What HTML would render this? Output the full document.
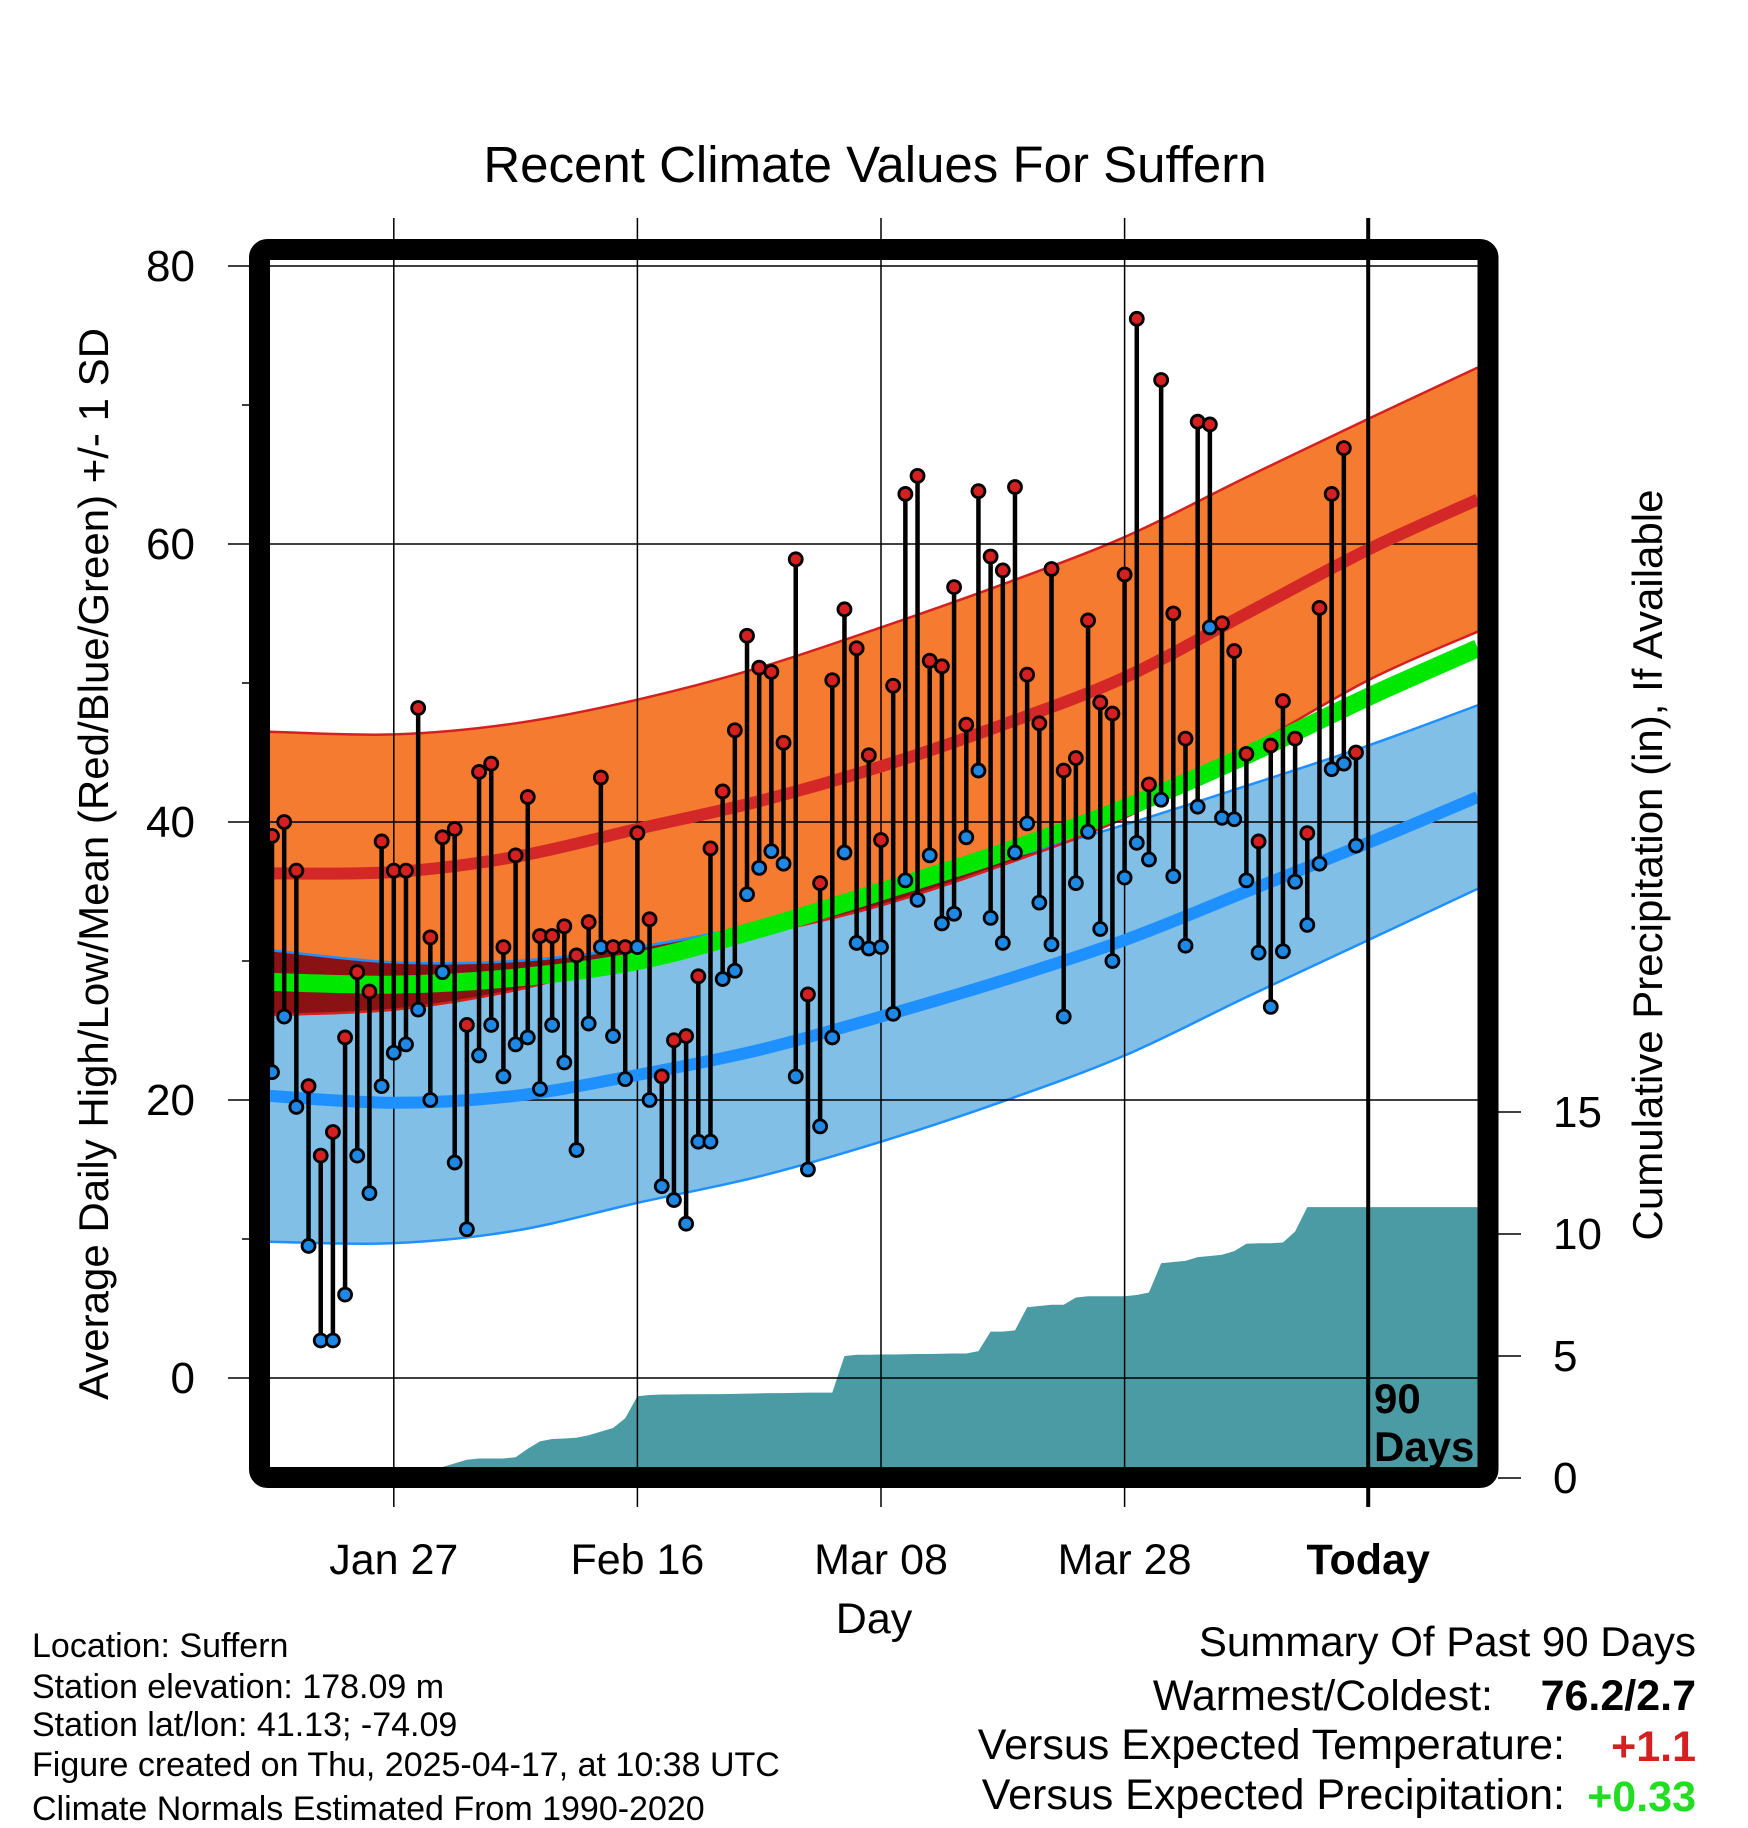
<!DOCTYPE html>
<html><head><meta charset="utf-8"><style>
body{margin:0;background:#fff;}
svg{display:block;font-family:"Liberation Sans",Arial,sans-serif;}
</style></head><body>
<svg id="chart" width="1748" height="1828" viewBox="0 0 1748 1828">
<defs><clipPath id="plotClip"><rect x="270" y="260" width="1208" height="1207"/></clipPath></defs>
<text x="875" y="182" font-size="51" text-anchor="middle">Recent Climate Values For Suffern</text>
<g id="bands" clip-path="url(#plotClip)"></g>
<g id="grid"></g>
<g id="lines" clip-path="url(#plotClip)"></g>
<g id="obs"></g>
<g id="axes"></g>
<text x="1374" y="1413" font-size="42" font-weight="bold">90</text>
<text x="1374" y="1461" font-size="42" font-weight="bold">Days</text>
<rect x="259.5" y="249.5" width="1228.5" height="1228" rx="8" fill="none" stroke="#000" stroke-width="21"/>
<text transform="translate(108,864) rotate(-90)" font-size="42" text-anchor="middle">Average Daily High/Low/Mean (Red/Blue/Green) +/- 1 SD</text>
<text transform="translate(1662,865) rotate(-90)" font-size="42" text-anchor="middle">Cumulative Precipitation (in), If Available</text>
<text x="874" y="1633" font-size="43" text-anchor="middle">Day</text>
<g font-size="34">
<text x="32" y="1657">Location: Suffern</text>
<text x="32" y="1698">Station elevation: 178.09 m</text>
<text x="32" y="1736">Station lat/lon: 41.13; -74.09</text>
<text x="32" y="1776">Figure created on Thu, 2025-04-17, at 10:38 UTC</text>
<text x="32" y="1820">Climate Normals Estimated From 1990-2020</text>
</g>
<g font-size="43" text-anchor="end">
<text x="1696" y="1656" font-size="42">Summary Of Past 90 Days</text>
<text x="1493" y="1710">Warmest/Coldest:</text>
<text x="1696" y="1710" font-weight="bold">76.2/2.7</text>
<text x="1565" y="1759">Versus Expected Temperature:</text>
<text x="1696" y="1761" font-weight="bold" fill="#d42020">+1.1</text>
<text x="1565" y="1809">Versus Expected Precipitation:</text>
<text x="1696" y="1811" font-weight="bold" fill="#22dd22">+0.33</text>
</g>
</svg>
<script>
const highs=[39,40,36.5,21,16,17.7,24.5,29.2,27.8,38.6,36.5,36.5,48.2,31.7,38.9,39.5,25.4,43.6,44.2,31,37.6,41.8,31.8,31.8,32.5,30.4,32.8,43.2,31,31,39.2,33,21.7,24.3,24.6,28.9,38.1,42.2,46.6,53.4,51.1,50.8,45.7,58.9,27.6,35.6,50.2,55.3,52.5,44.8,38.7,49.8,63.6,64.9,51.6,51.2,56.9,47,63.8,59.1,58.1,64.1,50.6,47.1,58.2,43.7,44.6,54.5,48.6,47.8,57.8,76.2,42.7,71.8,55,46,68.8,68.6,54.3,52.3,44.9,38.6,45.5,48.7,46,39.2,55.4,63.6,66.9,45];
const lows=[22,26,19.5,9.5,2.7,2.7,6,16,13.3,21,23.4,24,26.5,20,29.2,15.5,10.7,23.2,25.4,21.7,24,24.5,20.8,25.4,22.7,16.4,25.5,31,24.6,21.5,31,20,13.8,12.8,11.1,17,17,28.7,29.3,34.8,36.7,37.9,37,21.7,15,18.1,24.5,37.8,31.3,30.9,31,26.2,35.8,34.4,37.6,32.7,33.4,38.9,43.7,33.1,31.3,37.8,39.9,34.2,31.2,26,35.6,39.3,32.3,30,36,38.5,37.3,41.6,36.1,31.1,41.1,54,40.3,40.2,35.8,30.6,26.7,30.7,35.7,32.6,37,43.8,44.2,38.3];
const precip=[0.3,0.3,0.3,0.3,0.3,0.3,0.3,0.3,0.3,0.3,0.3,0.3,0.3,0.35,0.45,0.6,0.75,0.8,0.8,0.8,0.85,1.2,1.5,1.6,1.62,1.65,1.75,1.9,2.05,2.45,3.35,3.4,3.42,3.42,3.43,3.43,3.44,3.44,3.45,3.46,3.47,3.48,3.48,3.49,3.5,3.5,3.5,5.0,5.05,5.05,5.06,5.06,5.07,5.08,5.08,5.09,5.1,5.1,5.2,6.0,6.0,6.05,7.0,7.05,7.1,7.1,7.4,7.45,7.45,7.45,7.45,7.5,7.6,8.8,8.85,8.9,9.05,9.1,9.15,9.3,9.6,9.62,9.62,9.65,10.1,11.1,11.1,11.1,11.1,11.1];
const normDays=[0,10,20,30,40,50,60,70,80,90,99];
const normHigh=[36.3,36.4,37.5,39.5,41.5,44,47,50.4,55,59.6,63.2];
const sdHigh=[10.2,9.9,9.6,9.3,9.6,10,10.1,10.1,9.8,9.4,9.5];
const normLow=[20.3,19.8,20.3,21.8,23.6,26,28.6,31.5,35,38.5,41.8];
const sdLow=[10.5,10.1,9.7,9.2,9.1,9,8.7,8.3,7.6,7,6.6];
const normMean=[28.5,28.3,28.8,30,32.3,35,37.8,41,44.8,49,52.5];
const yTicks=[0,20,40,60,80];
const yMinor=[10,30,50,70];
const pTicks=[0,5,10,15];
const xTickDays=[10,30,50,70,90];
const xTickLabels=["Jan 27","Feb 16","Mar 08","Mar 28","Today"];
const todayIndex=90;
const lastDay=99;

const NS="http://www.w3.org/2000/svg";
const xS=i=>272+i*12.18;
const yS=t=>1378-t*13.9;
const pS=p=>1478-p*24.4;
function mk(tag,attrs,parent){const e=document.createElementNS(NS,tag);for(const k in attrs)e.setAttribute(k,attrs[k]);parent.appendChild(e);return e;}
function smooth(pts){let d="M"+pts[0][0]+","+pts[0][1];for(let i=0;i<pts.length-1;i++){const p0=pts[Math.max(0,i-1)],p1=pts[i],p2=pts[i+1],p3=pts[Math.min(pts.length-1,i+2)];
const c1=[p1[0]+(p2[0]-p0[0])/6,p1[1]+(p2[1]-p0[1])/6],c2=[p2[0]-(p3[0]-p1[0])/6,p2[1]-(p3[1]-p1[1])/6];d+=" C"+c1+" "+c2+" "+p2;}return d;}
function curve(vals){return normDays.map((d,i)=>[xS(d)-(i===0?4:0),yS(vals[i])]);}
function bandPath(top,bot){const t=curve(top),b=curve(bot).reverse();return smooth(t)+" L"+b[0]+" "+smooth(b).slice(1)+" Z";}

const bands=document.getElementById('bands');
const hiTop=normHigh.map((v,i)=>v+sdHigh[i]),hiBot=normHigh.map((v,i)=>v-sdHigh[i]);
const loTop=normLow.map((v,i)=>v+sdLow[i]),loBot=normLow.map((v,i)=>v-sdLow[i]);
const defs=document.querySelector('defs');
const cp=mk('clipPath',{id:'blueClip'},defs);mk('path',{d:bandPath(loTop,loBot)},cp);
let e;
e=mk('path',{d:bandPath(loTop,loBot),fill:'#82bfe6',stroke:'none'},bands);

e=mk('path',{d:bandPath(hiTop,hiBot),fill:'#f47b30',stroke:'none'},bands);

e=mk('path',{d:bandPath(hiTop,hiBot),fill:'#8b1212','clip-path':'url(#blueClip)'},bands);

[[loTop,'#1e90ff'],[loBot,'#1e90ff'],[hiTop,'#d42020'],[hiBot,'#d42020']].forEach(([v,c])=>{
 e=mk('path',{d:smooth(curve(v)),fill:'none',stroke:c,'stroke-width':2.5},bands);
 });
let pd="M"+xS(0)+","+pS(0);
precip.forEach((p,i)=>{pd+=" L"+xS(i)+","+pS(p);});
pd+=" L"+xS(lastDay)+","+pS(precip[precip.length-1])+" L"+xS(lastDay)+","+pS(0)+" Z";
e=mk('path',{d:pd,fill:'#4a9ba4'},bands);


const grid=document.getElementById('grid');
yTicks.forEach(t=>{e=mk('line',{x1:228,x2:1478,y1:yS(t),y2:yS(t),stroke:'#000','stroke-width':1.5},grid);
 });
xTickDays.forEach((d,k)=>{if(d===todayIndex)return;e=mk('line',{x1:xS(d),x2:xS(d),y1:218,y2:1507,stroke:'#000','stroke-width':1.5},grid);
 });

const lines=document.getElementById('lines');
e=mk('path',{d:smooth(curve(normLow)),fill:'none',stroke:'#1e90ff','stroke-width':12},lines);

e=mk('path',{d:smooth(curve(normHigh)),fill:'none',stroke:'#d42828','stroke-width':12},lines);

e=mk('path',{d:smooth(curve(normMean)),fill:'none',stroke:'#00e800','stroke-width':18},lines);


const obs=document.getElementById('obs');
highs.forEach((h,i)=>{const x=xS(i);
 e=mk('line',{x1:x,x2:x,y1:yS(h),y2:yS(lows[i]),stroke:'#000','stroke-width':4.5},obs);
 });
highs.forEach((h,i)=>{const x=xS(i);
 e=mk('circle',{cx:x,cy:yS(lows[i]),r:6.5,fill:'#1e88e5',stroke:'#000','stroke-width':2.8},obs);
 
 e=mk('circle',{cx:x,cy:yS(h),r:6.5,fill:'#d42020',stroke:'#000','stroke-width':2.8},obs);
 });

const axes=document.getElementById('axes');
e=mk('line',{x1:xS(todayIndex),x2:xS(todayIndex),y1:218,y2:1507,stroke:'#000','stroke-width':4},axes);

yTicks.forEach(t=>{e=mk('text',{x:195,y:yS(t)+15,'font-size':44,'text-anchor':'end'},axes);e.textContent=t;
 });
yMinor.forEach(t=>{e=mk('line',{x1:242,x2:254,y1:yS(t),y2:yS(t),stroke:'#000','stroke-width':1.5},axes);
 });
pTicks.forEach(p=>{e=mk('line',{x1:1498,x2:1521,y1:pS(p),y2:pS(p),stroke:'#000','stroke-width':1.5},axes);
 
 e=mk('text',{x:1553,y:pS(p)+15,'font-size':44},axes);e.textContent=p;
 });
xTickDays.forEach((d,k)=>{e=mk('text',{x:xS(d),y:1574,'font-size':43,'text-anchor':'middle','font-weight':d===todayIndex?'bold':'normal'},axes);
 e.textContent=xTickLabels[k];
 });
</script>
</body></html>
